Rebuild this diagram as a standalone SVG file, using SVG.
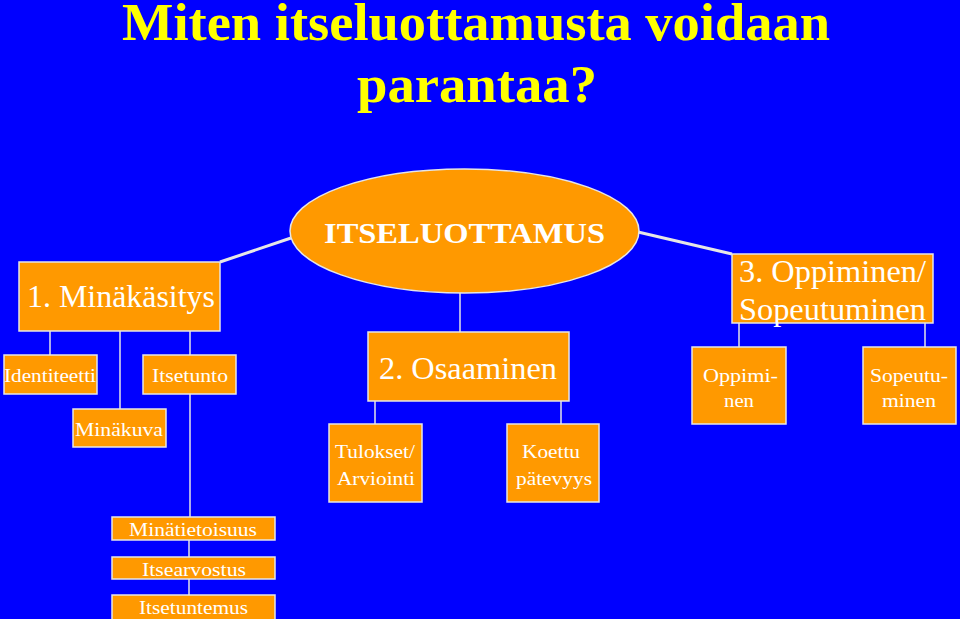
<svg xmlns="http://www.w3.org/2000/svg" width="960" height="619" viewBox="0 0 960 619">
<style>
.box{fill:#FF9900;stroke:#E6E6E6;stroke-width:1.5}
.t{font-family:"Liberation Serif","Times New Roman",serif;fill:#FFFFFF;text-anchor:middle}
.l{font-size:31px}
.s{font-size:19.5px}
.ln{stroke:#E6E6E6;stroke-width:1.5;fill:none}
.dl{stroke:#E6E6E6;stroke-width:3;fill:none}
</style>
<rect width="960" height="619" fill="#0000FF"/>
<g id="title" font-family="'Liberation Serif','Times New Roman',serif" font-weight="bold" font-size="52" fill="#FFFF00" text-anchor="middle">
<text x="476" y="40" textLength="708" lengthAdjust="spacingAndGlyphs">Miten itseluottamusta voidaan</text>
<text x="477" y="102" textLength="240" lengthAdjust="spacingAndGlyphs">parantaa?</text>
</g>
<g id="connectors">
<line class="dl" x1="220" y1="262" x2="291" y2="238"/>
<line class="dl" x1="638" y1="232" x2="732" y2="254"/>
<line class="ln" x1="460" y1="293" x2="460" y2="332"/>
<line class="ln" x1="50" y1="331" x2="50" y2="355"/>
<line class="ln" x1="120" y1="331" x2="120" y2="409"/>
<line class="ln" x1="190" y1="331" x2="190" y2="355"/>
<line class="ln" x1="190" y1="394" x2="190" y2="517"/>
<line class="ln" x1="189" y1="540" x2="189" y2="557"/>
<line class="ln" x1="189" y1="579" x2="189" y2="595"/>
<line class="ln" x1="375" y1="401" x2="375" y2="424"/>
<line class="ln" x1="561" y1="401" x2="561" y2="424"/>
<line class="ln" x1="739" y1="323" x2="739" y2="347"/>
<line class="ln" x1="925" y1="323" x2="925" y2="347"/>
</g>
<g id="itseluottamus">
<ellipse class="box" cx="464.5" cy="231" rx="174.5" ry="62"/>
<text class="t" x="464.5" y="243" font-size="30" font-weight="bold" textLength="281" lengthAdjust="spacingAndGlyphs">ITSELUOTTAMUS</text>
</g>
<g id="minakasitys">
<rect class="box" x="19" y="262" width="201" height="69"/>
<text class="t l" x="121" y="307" textLength="188" lengthAdjust="spacingAndGlyphs">1. Minäkäsitys</text>
</g>
<g id="identiteetti">
<rect class="box" x="4" y="355" width="93" height="39"/>
<text class="t s" x="50" y="382" textLength="92" lengthAdjust="spacingAndGlyphs">Identiteetti</text>
</g>
<g id="itsetunto">
<rect class="box" x="143" y="355" width="93" height="39"/>
<text class="t s" x="190" y="382" textLength="76" lengthAdjust="spacingAndGlyphs">Itsetunto</text>
</g>
<g id="minakuva">
<rect class="box" x="73" y="409" width="93" height="38"/>
<text class="t s" x="119" y="436" textLength="88" lengthAdjust="spacingAndGlyphs">Minäkuva</text>
</g>
<g id="minatietoisuus">
<rect class="box" x="112" y="517" width="163" height="23"/>
<text class="t s" x="193" y="536" textLength="128" lengthAdjust="spacingAndGlyphs">Minätietoisuus</text>
</g>
<g id="itsearvostus">
<rect class="box" x="112" y="557" width="163" height="22"/>
<text class="t s" x="194" y="576" textLength="104" lengthAdjust="spacingAndGlyphs">Itsearvostus</text>
</g>
<g id="itsetuntemus">
<rect class="box" x="112" y="595" width="163" height="30"/>
<text class="t s" x="193.5" y="614" textLength="109" lengthAdjust="spacingAndGlyphs">Itsetuntemus</text>
</g>
<g id="osaaminen">
<rect class="box" x="368" y="332" width="201" height="69"/>
<text class="t l" x="468" y="379" textLength="178" lengthAdjust="spacingAndGlyphs">2. Osaaminen</text>
</g>
<g id="tulokset">
<rect class="box" x="329" y="424" width="93" height="78"/>
<text class="t s" x="375" y="458" textLength="80" lengthAdjust="spacingAndGlyphs">Tulokset/</text>
<text class="t s" x="376" y="485" textLength="78" lengthAdjust="spacingAndGlyphs">Arviointi</text>
</g>
<g id="koettu">
<rect class="box" x="507" y="424" width="92" height="78"/>
<text class="t s" x="551" y="458" textLength="58" lengthAdjust="spacingAndGlyphs">Koettu</text>
<text class="t s" x="554" y="485" textLength="76" lengthAdjust="spacingAndGlyphs">pätevyys</text>
</g>
<g id="oppiminen-sopeutuminen">
<rect class="box" x="732" y="254" width="201" height="69"/>
<text class="t l" x="832.5" y="282" textLength="187" lengthAdjust="spacingAndGlyphs">3. Oppiminen/</text>
<text class="t l" x="832.5" y="320" textLength="187" lengthAdjust="spacingAndGlyphs">Sopeutuminen</text>
</g>
<g id="oppiminen">
<rect class="box" x="692" y="347" width="94" height="77"/>
<text class="t s" x="740.5" y="382" textLength="75" lengthAdjust="spacingAndGlyphs">Oppimi-</text>
<text class="t s" x="739" y="407" textLength="30" lengthAdjust="spacingAndGlyphs">nen</text>
</g>
<g id="sopeutuminen">
<rect class="box" x="863" y="347" width="93" height="77"/>
<text class="t s" x="909" y="382" textLength="78" lengthAdjust="spacingAndGlyphs">Sopeutu-</text>
<text class="t s" x="909" y="407" textLength="54" lengthAdjust="spacingAndGlyphs">minen</text>
</g>
</svg>
